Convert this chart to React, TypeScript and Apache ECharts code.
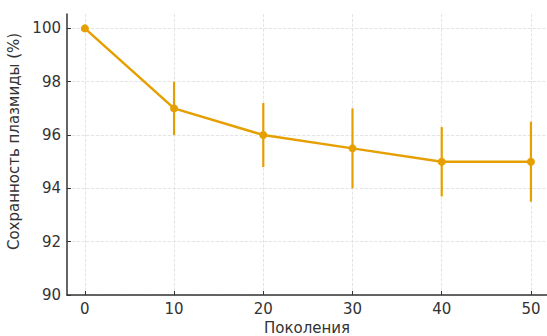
import React, { useEffect, useRef } from "react";
import * as echarts from "echarts";

const generations = [0, 10, 20, 30, 40, 50];
const retention = [100, 97, 96, 95.5, 95, 95];
const errLow = [100, 96, 94.8, 94, 93.7, 93.5];
const errHigh = [100, 98, 97.2, 97, 96.3, 96.5];
const xTicks = [0, 10, 20, 30, 40, 50];
const yTicks = [90, 92, 94, 96, 98, 100];

const COLOR = "#E69F00";
const FONT = "DejaVu Sans";

export default function App() {
  const ref = useRef<HTMLDivElement>(null);
  useEffect(() => {
    const chart = echarts.init(ref.current!, null, { renderer: "svg" });
    const lineData = generations.map((g, i) => [g, retention[i]]);
    const errData = generations.map((g, i) => [g, errLow[i], errHigh[i]]);
    chart.setOption({
      animation: false,
      backgroundColor: "#ffffff",
      grid: { left: 67, top: 14, right: 0, bottom: 41, containLabel: false, outerBoundsMode: "none" },
      xAxis: {
        type: "value",
        min: -2,
        max: 51.8,
        name: "Поколения",
        nameLocation: "middle",
        nameGap: 21,
        nameTextStyle: { fontFamily: FONT, fontSize: 15, lineHeight: 15, color: "#333" },
        axisLine: { show: true, onZero: false, lineStyle: { color: "#333", width: 1.5 } },
        axisTick: { show: true, inside: true, length: 4, customValues: xTicks, lineStyle: { color: "#333" } },
        axisLabel: { customValues: xTicks, fontFamily: FONT, fontSize: 15, color: "#333", margin: 6 },
        splitLine: { show: true, lineStyle: { color: "#dddddd", type: "dashed", width: 0.8 } },
      },
      yAxis: {
        type: "value",
        min: 90,
        max: 100.54,
        name: "Сохранность плазмиды (%)",
        nameLocation: "middle",
        nameGap: 46,
        nameTextStyle: { fontFamily: FONT, fontSize: 15, color: "#333", padding: [0, 0, 0, 26] },
        axisLine: { show: true, onZero: false, lineStyle: { color: "#333", width: 1.5 } },
        axisTick: { show: true, inside: true, length: 4, customValues: yTicks, lineStyle: { color: "#333" } },
        axisLabel: { customValues: yTicks, fontFamily: FONT, fontSize: 15, color: "#333", margin: 6 },
        splitLine: { show: true, lineStyle: { color: "#dddddd", type: "dashed", width: 0.8 } },
      },
      series: [
        {
          type: "custom",
          data: errData,
          z: 3,
          renderItem: (params: any, api: any) => {
            const x = api.value(0);
            const lo = api.coord([x, api.value(1)]);
            const hi = api.coord([x, api.value(2)]);
            return {
              type: "line",
              shape: { x1: lo[0], y1: lo[1], x2: hi[0], y2: hi[1] },
              style: { stroke: COLOR, lineWidth: 2.2 },
            };
          },
        },
        {
          type: "line",
          data: lineData,
          z: 4,
          symbol: "circle",
          symbolSize: 8,
          showSymbol: true,
          lineStyle: { color: COLOR, width: 2.5 },
          itemStyle: { color: COLOR },
        },
      ],
    });
    return () => chart.dispose();
  }, []);
  return (
    <div
      ref={ref}
      style={{ position: "fixed", left: 0, top: 0, width: 547, height: 336 }}
    />
  );
}
